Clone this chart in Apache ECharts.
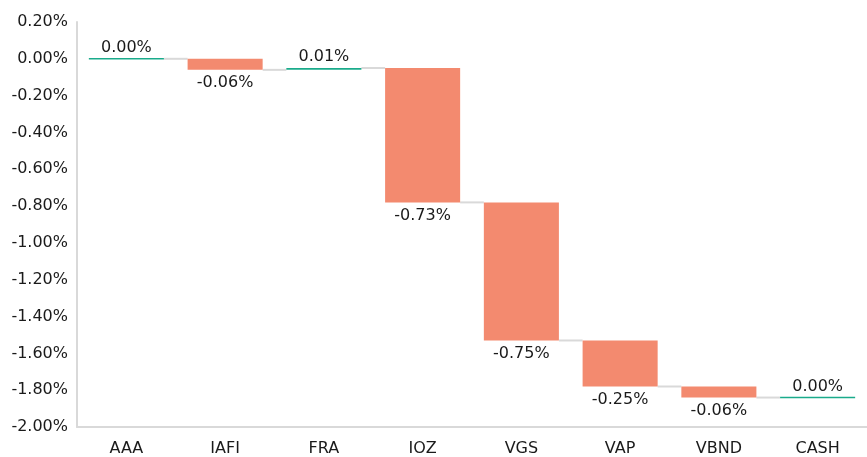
<!DOCTYPE html>
<html>
<head>
<meta charset="utf-8">
<script src="https://cdn.jsdelivr.net/npm/echarts@6/dist/echarts.min.js"></script>
<style>
  html, body { margin: 0; padding: 0; background: #fff; }
  #main { width: 867px; height: 457px; }
</style>
</head>
<body>
<div id="main"></div>
<script>
var categories = ['AAA', 'IAFI', 'FRA', 'IOZ', 'VGS', 'VAP', 'VBND', 'CASH'];
var changes = [0.00, -0.06, 0.01, -0.73, -0.75, -0.25, -0.06, 0.00];
var yTicks = { min: -2, max: 0.2, step: 0.2 };

var FONT = 'DejaVu Sans';
var UP = '#1aab8b';
var DOWN = '#f38a6f';
var LINK = '#d9d9d9';

// running totals -> [index, start, end, change]
var rows = [];
var level = 0;
for (var i = 0; i < changes.length; i++) {
    rows.push([i, level, level + changes[i], changes[i]]);
    level = level + changes[i];
}
var links = rows.slice(0, rows.length - 1).map(function (r) { return [r[0], r[2]]; });

var chart = echarts.init(document.getElementById('main'));

function pct(v) { return v.toFixed(2) + '%'; }

chart.setOption({
    animation: false,
    grid: { left: 77, right: 0, top: 22, bottom: 29 },
    xAxis: {
        type: 'category',
        data: categories,
        axisLine: { onZero: false, lineStyle: { color: LINK, width: 2 } },
        axisTick: { show: false },
        axisLabel: { color: '#1a1a1a', fontSize: 16, fontFamily: FONT, margin: 14 }
    },
    yAxis: {
        type: 'value',
        min: yTicks.min,
        max: yTicks.max,
        interval: yTicks.step,
        axisLine: { show: true, lineStyle: { color: LINK, width: 2 } },
        axisTick: { show: false },
        splitLine: { show: false },
        axisLabel: {
            color: '#1a1a1a', fontSize: 16, fontFamily: FONT, margin: 9,
            formatter: function (v) { return pct(v); }
        }
    },
    series: [
        {
            type: 'custom',
            data: links,
            renderItem: function (params, api) {
                var idx = api.value(0);
                var bw = api.size([1, 0])[0];
                var barW = bw * 0.76;
                var p = api.coord([idx, api.value(1)]);
                return {
                    type: 'line',
                    shape: { x1: p[0] + barW / 2, y1: p[1], x2: p[0] + bw - barW / 2, y2: p[1] },
                    style: { stroke: LINK, lineWidth: 2 }
                };
            }
        },
        {
            type: 'custom',
            data: rows,
            renderItem: function (params, api) {
                var idx = api.value(0);
                var start = api.value(1);
                var end = api.value(2);
                var chg = api.value(3);
                var bw = api.size([1, 0])[0];
                var barW = bw * 0.76;
                var a = api.coord([idx, start]);
                var b = api.coord([idx, end]);
                var top = Math.min(a[1], b[1]);
                var h = Math.abs(a[1] - b[1]);
                var children = [];
                if (h < 1.5) {
                    children.push({
                        type: 'line',
                        shape: { x1: a[0] - barW / 2, y1: b[1], x2: a[0] + barW / 2, y2: b[1] },
                        style: { stroke: chg >= 0 ? UP : DOWN, lineWidth: 1.5 }
                    });
                } else {
                    children.push({
                        type: 'rect',
                        shape: { x: a[0] - barW / 2, y: top, width: barW, height: h },
                        style: { fill: chg >= 0 ? UP : DOWN }
                    });
                }
                var ly = chg >= 0 ? top - 11 : top + h + 13;
                children.push({
                    type: 'text',
                    style: {
                        text: pct(chg), x: a[0], y: ly,
                        align: 'center', verticalAlign: 'middle',
                        fill: '#1a1a1a', fontSize: 16, fontFamily: FONT
                    }
                });
                return { type: 'group', children: children };
            }
        }
    ]
});
</script>
</body>
</html>
